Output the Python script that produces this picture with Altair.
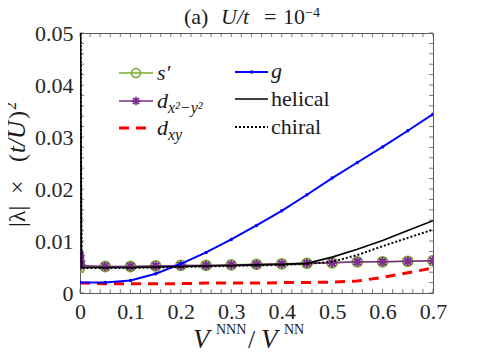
import altair as alt
import pandas as pd

W, H = 353, 260
FONT = "Liberation Serif"
FRAME = "#5a5a5a"

# ---------------- data ----------------
x_grid = [0.0, 0.05, 0.1, 0.15, 0.2, 0.25, 0.3, 0.35, 0.4, 0.45, 0.5, 0.55, 0.6, 0.65, 0.7]

sp_x = x_grid
sp_y = [0.0050, 0.0051, 0.0051, 0.0052, 0.0053, 0.0053, 0.0054, 0.0055,
        0.0056, 0.0057, 0.0058, 0.0060, 0.0060, 0.0061, 0.0062]

d_x = [0.0, 0.001, 0.002, 0.05, 0.1, 0.15, 0.2, 0.25, 0.3, 0.35, 0.4, 0.45, 0.5, 0.55, 0.6, 0.65, 0.7]
d_y = [0.0072, 0.0062, 0.0053, 0.0051, 0.0051, 0.0052, 0.0053, 0.0053, 0.0054,
       0.0055, 0.0056, 0.0057, 0.0058, 0.0060, 0.0060, 0.0061, 0.0062]

dxy_x = x_grid
dxy_y = [0.0019, 0.0018, 0.0018, 0.0018, 0.0018, 0.0019, 0.0019, 0.0019,
         0.0020, 0.0020, 0.0021, 0.0023, 0.0030, 0.0039, 0.0048]

g_x = x_grid
g_y = [0.0020, 0.0020, 0.0024, 0.0037, 0.0056, 0.0078, 0.0103, 0.0130,
       0.0158, 0.0189, 0.0221, 0.0251, 0.0281, 0.0312, 0.0344]

hel_x = [0.0, 0.003, 0.05, 0.1, 0.15, 0.2, 0.25, 0.3, 0.35, 0.4, 0.45, 0.5, 0.55, 0.6, 0.65, 0.7]
hel_y = [0.08, 0.0049, 0.0049, 0.0049, 0.0050, 0.0051, 0.0052, 0.0053,
         0.0054, 0.0055, 0.0057, 0.0069, 0.0084, 0.0101, 0.0120, 0.0139]

chi_x = hel_x
chi_y = [0.08, 0.0048, 0.0048, 0.0048, 0.0049, 0.0050, 0.0051, 0.0052,
         0.0053, 0.0054, 0.0056, 0.0060, 0.0073, 0.0090, 0.0106, 0.0122]

x_major = [0, 0.1, 0.2, 0.3, 0.4, 0.5, 0.6, 0.7]
y_major = [0, 0.01, 0.02, 0.03, 0.04, 0.05]
x_minor = [round(i * 0.02, 2) for i in range(36)]
y_minor = [round(i * 0.002, 3) for i in range(26)]

GREEN = "#77AC30"
PURPLE = "#7E2F8E"
RED = "#FF0000"
BLUE = "#0000FF"
BLACK = "#000000"

STAR = "M0,-1L0,1M-1,0L1,0M-0.72,-0.72L0.72,0.72M-0.72,0.72L0.72,-0.72"

xs = alt.Scale(domain=[0, 0.7], nice=False, zero=False)
ys = alt.Scale(domain=[0, 0.05], nice=False, zero=False)


def df(xv, yv):
    return pd.DataFrame({"x": xv, "y": yv})


def enc(chart, axis_x=None, axis_y=None):
    return chart.encode(
        x=alt.X("x:Q", scale=xs, axis=axis_x),
        y=alt.Y("y:Q", scale=ys, axis=axis_y),
    )


layers = []

# ---------- inner ticks ----------
xt = pd.DataFrame({"x": x_minor})
yt = pd.DataFrame({"y": y_minor})
layers.append(alt.Chart(xt).mark_rule(color=FRAME, strokeWidth=0.8).encode(
    x=alt.X("x:Q", scale=xs, axis=None), y=alt.value(H), y2=alt.value(H - 4)))
layers.append(alt.Chart(xt).mark_rule(color=FRAME, strokeWidth=0.8).encode(
    x=alt.X("x:Q", scale=xs, axis=None), y=alt.value(0), y2=alt.value(4)))
layers.append(alt.Chart(yt).mark_rule(color=FRAME, strokeWidth=0.8).encode(
    y=alt.Y("y:Q", scale=ys, axis=None), x=alt.value(0), x2=alt.value(4)))
layers.append(alt.Chart(yt).mark_rule(color=FRAME, strokeWidth=0.8).encode(
    y=alt.Y("y:Q", scale=ys, axis=None), x=alt.value(W), x2=alt.value(W - 4)))

# ---------- axes (labels only) ----------
ax_x = alt.Axis(values=x_major, labelExpr="datum.value == 0 ? '0' : format(datum.value, '.1f')",
                domain=False, ticks=False, grid=False, labelFont=FONT, labelFontSize=22,
                labelColor="#262626", labelPadding=8, title=None, labelFlush=False)
ax_y = alt.Axis(values=y_major, labelExpr="datum.value == 0 ? '0' : format(datum.value, '.2f')",
                domain=False, ticks=False, grid=False, labelFont=FONT, labelFontSize=22,
                labelColor="#262626", labelPadding=7, title=None, labelFlush=False)

# ---------- series ----------
layers.append(enc(alt.Chart(df(sp_x, sp_y)).mark_line(color=GREEN, strokeWidth=1.6, clip=True),
                  ax_x, ax_y))
layers.append(enc(alt.Chart(df(sp_x, sp_y)).mark_point(shape="circle", size=100, color=GREEN,
                                                      filled=False, strokeWidth=1.8, opacity=1, clip=True)))
layers.append(enc(alt.Chart(df(d_x, d_y)).mark_line(color=PURPLE, strokeWidth=1.5, clip=True)))
layers.append(enc(alt.Chart(df(d_x, d_y)).mark_point(shape=STAR, size=90, color=PURPLE,
                                                    filled=False, strokeWidth=2.2, opacity=1, clip=True)))
layers.append(enc(alt.Chart(df(dxy_x, dxy_y)).mark_line(color=RED, strokeWidth=3,
                                                       strokeDash=[10, 7], clip=True)))
layers.append(enc(alt.Chart(df(g_x, g_y)).mark_line(color=BLUE, strokeWidth=2, clip=True)))
layers.append(enc(alt.Chart(df(g_x, g_y)).mark_point(shape="circle", size=12, color=BLUE,
                                                    filled=True, opacity=1, clip=True)))
layers.append(enc(alt.Chart(df(hel_x, hel_y)).mark_line(color=BLACK, strokeWidth=1.6, clip=True)))
layers.append(enc(alt.Chart(df(chi_x, chi_y)).mark_line(color=BLACK, strokeWidth=2,
                                                       strokeDash=[2, 2], clip=True)))

# ---------- text helpers ----------
one = pd.DataFrame({"k": [0]})


def txt(s, x, y, size=22, style="normal", angle=None, align="left", baseline="alphabetic"):
    kw = dict(text=s, font=FONT, fontSize=size, fontStyle=style, align=align,
              baseline=baseline, color="#1a1a1a")
    if angle:
        kw["angle"] = angle
    return alt.Chart(one).mark_text(**kw).encode(x=alt.value(x), y=alt.value(y))


def lrule(x1, x2, y, color, width, dash=None):
    kw = dict(color=color, strokeWidth=width)
    if dash:
        kw["strokeDash"] = dash
    return alt.Chart(one).mark_rule(**kw).encode(x=alt.value(x1), x2=alt.value(x2), y=alt.value(y))


def lpoint(x, y, shape, size, color, filled, sw=1.5):
    return alt.Chart(one).mark_point(shape=shape, size=size, color=color, filled=filled,
                                     strokeWidth=sw, opacity=1).encode(x=alt.value(x), y=alt.value(y))


# ---------- legend ----------
c1a, c1b, c1t = 39, 73, 77
c2a, c2b, c2t = 155, 188, 191
r1, r2, r3 = 40, 68, 95
layers += [
    lrule(c1a, c1b, r1, GREEN, 1.6), lpoint((c1a + c1b) / 2, r1, "circle", 80, GREEN, False, 1.6),
    txt("s′", c1t, r1 + 7, size=22, style="italic"),
    lrule(c1a, c1b, r2, PURPLE, 1.5), lpoint((c1a + c1b) / 2, r2, STAR, 70, PURPLE, False, 1.8),
    txt("d", c1t, r2 + 7, size=22, style="italic"),
    txt("x²−y²", c1t + 11, r2 + 12, size=16, style="italic"),
    lrule(c1a, c1b, r3, RED, 3, [10, 7]),
    txt("d", c1t, r3 + 7, size=22, style="italic"),
    txt("xy", c1t + 11, r3 + 12, size=16, style="italic"),
    lrule(c2a, c2b, r1 - 1, BLUE, 2), lpoint((c2a + c2b) / 2, r1 - 1, "circle", 12, BLUE, True),
    txt("g", c2t, r1 + 5, size=22, style="italic"),
    lrule(c2a, c2b, r2 - 2, BLACK, 1.6),
    txt("helical", c2t, r2 + 5, size=22),
    lrule(c2a, c2b, r3 - 1, BLACK, 2, [2, 2]),
    txt("chiral", c2t, r3 + 6, size=22),
]

# ---------- title ----------
layers += [
    txt("(a)", 104, -9, size=22),
    txt("U/t", 141, -9, size=22, style="italic"),
    txt("=", 184, -9, size=22),
    txt("10", 203, -9, size=22),
    txt("−4", 225, -16, size=14),
]

# ---------- x title ----------
layers += [
    txt("V", 113, 315, size=27, style="italic"),
    txt("NNN", 136, 301, size=14),
    txt("/", 168, 315, size=26),
    txt("V", 181, 315, size=27, style="italic"),
    txt("NN", 204, 301, size=14),
]

# ---------- y title (rotated) ----------
layers += [
    txt("|λ|", -55, 194, size=24, angle=270),
    txt("×", -55, 161, size=24, angle=270),
    txt("(", -55, 129, size=24, angle=270),
    txt("t/U", -55, 120, size=25, style="italic", angle=270),
    txt(")", -55, 86, size=24, angle=270),
    txt("2", -64, 77, size=16, angle=270),
]

chart = alt.layer(*layers).resolve_axis(x="independent", y="independent").properties(
    width=W, height=H,
    padding={"left": 72, "top": 25, "right": 30, "bottom": 58},
    autosize=alt.AutoSizeParams(type="none"),
    background="white",
).configure_view(stroke=FRAME, strokeWidth=1)

chart.save("out.html", embed_options={"renderer": "svg", "actions": False})
